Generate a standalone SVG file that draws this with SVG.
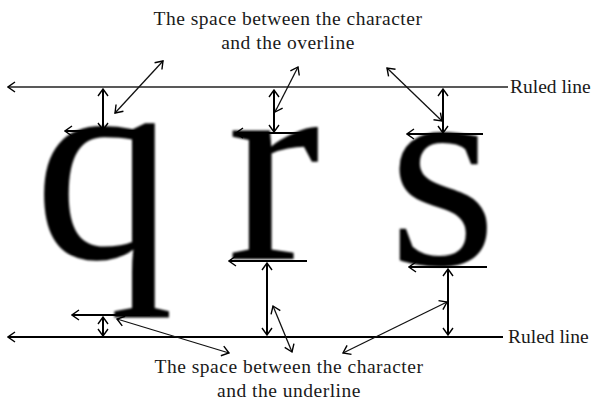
<svg xmlns="http://www.w3.org/2000/svg" width="595" height="402" viewBox="0 0 595 402">
  <style>
    .lbl { font-family: "Liberation Serif", "Times New Roman", serif; font-size: 19.5px; fill: #1a1a1a; }
    .ttl { letter-spacing: 0.5px; }
    .chr { font-family: "Liberation Serif", "Times New Roman", serif; font-size: 280px; fill: #000; }
    .rule-top { stroke: #222; stroke-width: 1.4; fill: none; }
    .rule-bot { stroke: #000; stroke-width: 2.2; fill: none; }
    .bar { stroke: #000; stroke-width: 2.2; fill: none; }
    .vert { stroke: #000; stroke-width: 2; fill: none; }
    .diag { stroke: #111; stroke-width: 1.3; fill: none; }
  </style>
  <defs>
    <marker id="ah" viewBox="-9 -7 10 14" refX="0" refY="0" markerWidth="10" markerHeight="14" markerUnits="userSpaceOnUse" orient="auto-start-reverse">
      <path d="M-7,-5 L0,0 L-7,5" fill="none" stroke="#000" stroke-width="1.4"/>
    </marker>
    <filter id="soft" x="-10%" y="-10%" width="120%" height="120%">
      <feGaussianBlur stdDeviation="1"/>
    </filter>
  </defs>
  <rect width="595" height="402" fill="#ffffff"/>

  <g id="char-q"><text class="chr" x="34" y="258" filter="url(#soft)">q</text></g>
  <g id="char-r"><text class="chr" x="227" y="259" filter="url(#soft)">r</text></g>
  <g id="char-s"><text class="chr" x="388" y="264" filter="url(#soft)">s</text></g>

  <g id="label-overline">
    <text class="lbl ttl" x="288" y="25" text-anchor="middle">The space between the character</text>
    <text class="lbl ttl" x="288" y="49" text-anchor="middle">and the overline</text>
  </g>
  <g id="label-underline">
    <text class="lbl ttl" x="289" y="373" text-anchor="middle">The space between the character</text>
    <text class="lbl ttl" x="289" y="397" text-anchor="middle">and the underline</text>
  </g>
  <g id="label-ruled-top"><text class="lbl" x="510" y="93">Ruled line</text></g>
  <g id="label-ruled-bottom"><text class="lbl" x="508" y="343">Ruled line</text></g>

  <g id="connectors">
    <!-- ruled lines -->
    <line class="rule-top" x1="508" y1="87" x2="8" y2="87" marker-end="url(#ah)"/>
    <line class="rule-bot" x1="503" y1="337" x2="8" y2="337" marker-end="url(#ah)"/>

    <!-- top bars at characters -->
    <line class="bar" x1="142" y1="131" x2="65" y2="131" marker-end="url(#ah)"/>
    <line class="bar" x1="313" y1="133" x2="236" y2="133" marker-end="url(#ah)"/>
    <line class="bar" x1="483" y1="134" x2="407" y2="134" marker-end="url(#ah)"/>

    <!-- bottom bars at characters -->
    <line class="bar" x1="150" y1="315" x2="72" y2="315" marker-end="url(#ah)"/>
    <line class="bar" x1="307" y1="261" x2="229" y2="261" marker-end="url(#ah)"/>
    <line class="bar" x1="487" y1="267" x2="409" y2="267" marker-end="url(#ah)"/>

    <!-- vertical double arrows, overline -->
    <line class="vert" x1="103" y1="89" x2="103" y2="130" marker-start="url(#ah)" marker-end="url(#ah)"/>
    <line class="vert" x1="274" y1="90" x2="274" y2="132" marker-start="url(#ah)" marker-end="url(#ah)"/>
    <line class="vert" x1="443" y1="89" x2="443" y2="133" marker-start="url(#ah)" marker-end="url(#ah)"/>

    <!-- vertical double arrows, underline -->
    <line class="vert" x1="103" y1="317" x2="103" y2="336" marker-start="url(#ah)" marker-end="url(#ah)"/>
    <line class="vert" x1="267" y1="263" x2="267" y2="335" marker-start="url(#ah)" marker-end="url(#ah)"/>
    <line class="vert" x1="448" y1="269" x2="448" y2="335" marker-start="url(#ah)" marker-end="url(#ah)"/>

    <!-- diagonal pointers, overline -->
    <line class="diag" x1="115" y1="113" x2="163" y2="61" marker-start="url(#ah)" marker-end="url(#ah)"/>
    <line class="diag" x1="275" y1="112" x2="298" y2="67" marker-start="url(#ah)" marker-end="url(#ah)"/>
    <line class="diag" x1="442" y1="121" x2="387" y2="68" marker-start="url(#ah)" marker-end="url(#ah)"/>

    <!-- diagonal pointers, underline -->
    <line class="diag" x1="117" y1="319" x2="229" y2="353" marker-start="url(#ah)" marker-end="url(#ah)"/>
    <line class="diag" x1="273" y1="306" x2="292" y2="352" marker-start="url(#ah)" marker-end="url(#ah)"/>
    <line class="diag" x1="447" y1="302" x2="343" y2="353" marker-start="url(#ah)" marker-end="url(#ah)"/>
  </g>
</svg>
